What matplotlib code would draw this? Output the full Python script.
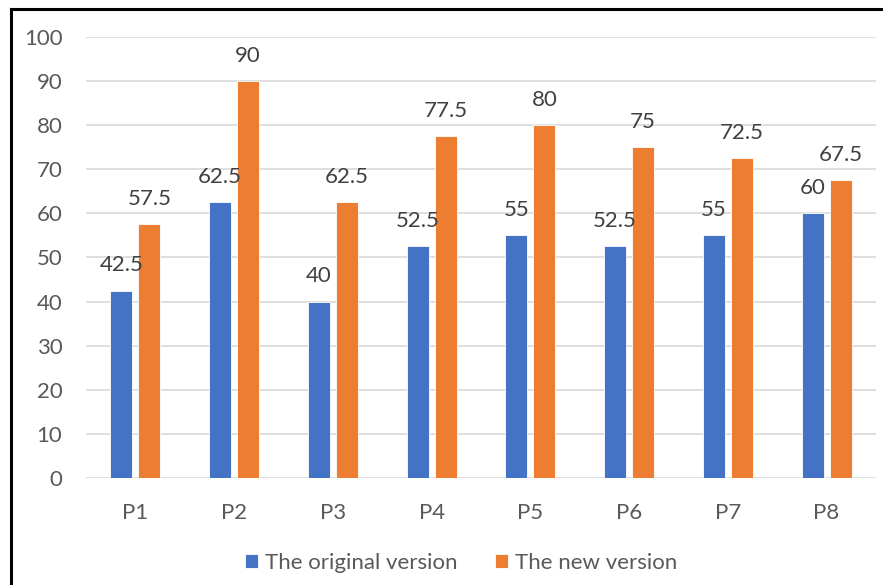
import matplotlib
matplotlib.use("Agg")
import matplotlib.pyplot as plt
import numpy as np
from matplotlib.lines import Line2D

plt.rcParams["font.family"] = ["Lato", "DejaVu Sans"]

categories = ["P1", "P2", "P3", "P4", "P5", "P6", "P7", "P8"]
original = [42.5, 62.5, 40, 52.5, 55, 52.5, 55, 60]
new = [57.5, 90, 62.5, 77.5, 80, 75, 72.5, 67.5]

blue = "#4472C4"
orange = "#ED7D31"
grey_text = "#595959"

fig = plt.figure(figsize=(8.83, 5.85), dpi=100)
ax = fig.add_axes([0.0974, 0.1829, 0.8946, 0.7539])

x = np.arange(len(categories))
w = 0.223
off = 0.1415
b1 = ax.bar(x - off, original, w, color=blue, edgecolor="white", linewidth=0.6,
            label="The original version", zorder=3)
b2 = ax.bar(x + off, new, w, color=orange, edgecolor="white", linewidth=0.6,
            label="The new version", zorder=3)

for bars in (b1, b2):
    ax.bar_label(bars, labels=[f"{v:g}" for v in bars.datavalues], padding=11,
                 fontsize=16, color="#404040")

ax.set_xlim(-0.5, len(categories) - 0.5)
ax.set_ylim(0, 100)
ax.set_yticks(range(0, 101, 10))
ax.set_xticks(x)
ax.set_xticklabels(categories)
ax.grid(axis="y", color="#D9D9D9", linewidth=1.2, zorder=0)
for s in ax.spines.values():
    s.set_visible(False)
ax.tick_params(axis="both", length=0, labelsize=16, labelcolor=grey_text)
ax.tick_params(axis="y", pad=17)
ax.tick_params(axis="x", pad=18)

fig.legend(handles=[b1, b2], loc="center", bbox_to_anchor=(461 / 883, 0.0376),
           ncol=2, frameon=False, fontsize=16, labelcolor=grey_text,
           handlelength=0.6, handleheight=0.6, handletextpad=0.3,
           columnspacing=1.7)

# frame lines along the top and left edges
fig.add_artist(Line2D([11 / 883, 11 / 883], [0, 1 - 9 / 585], color="black",
                      linewidth=2.2, transform=fig.transFigure))
fig.add_artist(Line2D([11 / 883, 1], [1 - 9 / 585, 1 - 9 / 585], color="black",
                      linewidth=2.2, transform=fig.transFigure))

fig.savefig("out.png", dpi=100)
